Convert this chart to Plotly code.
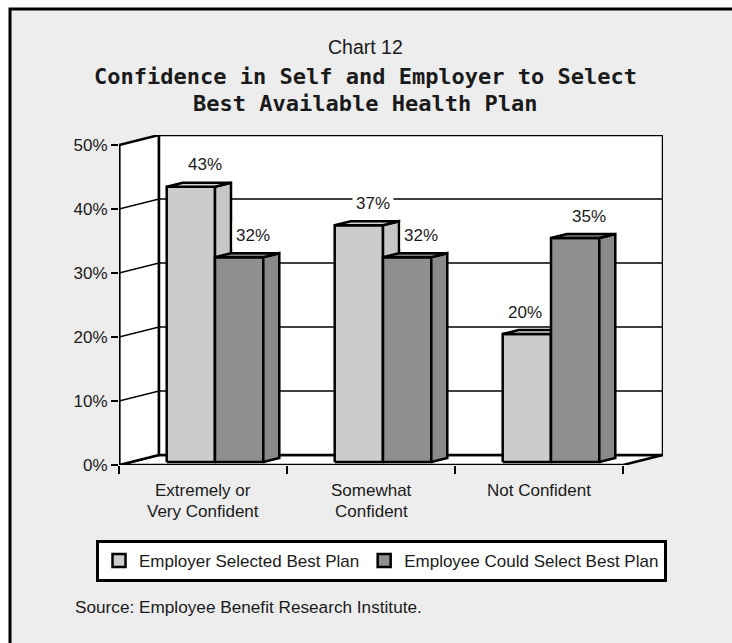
import plotly.graph_objects as go

# ---- data -------------------------------------------------------------
CATEGORIES = ["Extremely or<br>Very Confident", "Somewhat<br>Confident", "Not Confident"]
SERIES_NAMES = ["Employer Selected Best Plan", "Employee Could Select Best Plan"]
EMPLOYER = [43, 37, 20]
EMPLOYEE = [32, 32, 35]
Y_TICKS = [0, 10, 20, 30, 40, 50]

# ---- page geometry (pixels) -------------------------------------------
W, H = 732, 643
PLOT_L, PLOT_R, PLOT_T, PLOT_B = 119, 663, 135, 465
CAT_PX = 168.0          # width of one category on the front plane
PCT_PX = 6.4            # pixels per percentage point
WALL_DEPTH = (40, 10)   # back wall offset (right, up) in px
BAR_FRONT = (12, 3)     # bar front face offset from the front plane, px
BAR_DEPTH = (16, 4)     # depth of each column, px
BAR_W_PX = 48.3

FONT = "Liberation Sans, Arial, sans-serif"
TITLE_FONT = "DejaVu Sans Mono, Liberation Mono, monospace"
INK = "#1a1a1a"
BG = "#EDEDED"
COLORS = {"front": ["#CCCCCC", "#8F8F8F"], "side": ["#C6C6C6", "#8A8A8A"],
          "top": ["#D2D2D2", "#7E7E7E"]}

# depth offsets converted into data units
DX, DY = WALL_DEPTH[0] / CAT_PX, WALL_DEPTH[1] / PCT_PX
FDX, FDY = BAR_FRONT[0] / CAT_PX, BAR_FRONT[1] / PCT_PX
BDX, BDY = BAR_DEPTH[0] / CAT_PX, BAR_DEPTH[1] / PCT_PX
BAR_W = BAR_W_PX / CAT_PX
Y_MAX = Y_TICKS[-1]
N = len(CATEGORIES)
X0, X1 = -0.5, N - 0.5


def px_x(p):
    return (p - PLOT_L) / (PLOT_R - PLOT_L)


def px_y(p):
    return (PLOT_B - p) / (PLOT_B - PLOT_T)


fig = go.Figure()


def poly(xs, ys, fill, lw=2.5):
    fig.add_trace(go.Scatter(x=xs + [xs[0]], y=ys + [ys[0]], mode="lines", fill="toself",
                             fillcolor=fill, line=dict(color="black", width=lw),
                             hoverinfo="skip", showlegend=False, cliponaxis=False))


def seg(xs, ys, lw):
    fig.add_trace(go.Scatter(x=xs, y=ys, mode="lines", line=dict(color="black", width=lw),
                             hoverinfo="skip", showlegend=False, cliponaxis=False))


# floor, side wall and back wall
poly([X0, X1, X1 + DX, X0 + DX], [0, 0, DY, DY], "white")
poly([X0, X0, X0 + DX, X0 + DX], [0, Y_MAX, Y_MAX + DY, DY], "white")
poly([X0 + DX, X1 + DX, X1 + DX, X0 + DX], [DY, DY, Y_MAX + DY, Y_MAX + DY], "white")

# gridlines across side and back wall
for v in Y_TICKS[1:-1]:
    seg([X0, X0 + DX, X1 + DX], [v, v + DY, v + DY], 1.5)

# front vertical axis drawn heavier
seg([X0, X0], [0, Y_MAX], 3)


def column(xa, value, k):
    xb = xa + BAR_W
    b, t = FDY, FDY + value
    poly([xa, xb, xb, xa], [b, b, t, t], COLORS["front"][k])
    poly([xb, xb + BDX, xb + BDX, xb], [b, b + BDY, t + BDY, t], COLORS["side"][k])
    poly([xa, xb, xb + BDX, xa + BDX], [t, t, t + BDY, t + BDY], COLORS["top"][k])


annotations = []
LABEL_NUDGE = {(2, 0): -16}   # keep the short column's label clear of its neighbour

for i in range(N):
    for k, series in enumerate([EMPLOYER, EMPLOYEE]):
        xa = i - BAR_W + FDX + k * BAR_W
        column(xa, series[i], k)
        annotations.append(dict(
            x=xa + BAR_W / 2 + BDX, y=series[i] + FDY, xref="x", yref="y",
            text=f"{series[i]}%", showarrow=False, yanchor="middle", xanchor="center",
            yshift=22, xshift=-2 + LABEL_NUDGE.get((i, k), 0),
            bgcolor="white", borderpad=3, font=dict(family=FONT, size=17, color=INK)))

# legend entries
for k, name in enumerate(SERIES_NAMES):
    fig.add_trace(go.Scatter(x=[None], y=[None], mode="markers", name=name,
                             marker=dict(symbol="square", size=13, color=COLORS["front"][k],
                                         line=dict(color="black", width=2.5))))

# category labels, one annotation per line
for i, cat in enumerate(CATEGORIES):
    for j, line in enumerate(cat.split("<br>")):
        annotations.append(dict(x=i, y=0, xref="x", yref="y", text=line, showarrow=False,
                                xanchor="center", yanchor="middle", yshift=-25 - 21.5 * j,
                                font=dict(family=FONT, size=17, color=INK)))

cx = px_x(365)
annotations += [
    dict(x=cx, y=px_y(46.5), xref="paper", yref="paper", text="Chart 12", showarrow=False,
         xanchor="center", yanchor="middle", font=dict(family=FONT, size=19.5, color=INK)),
    dict(x=cx, y=px_y(76.5), xref="paper", yref="paper",
         text="<b>Confidence in Self and Employer to Select</b>", showarrow=False,
         xanchor="center", yanchor="middle", font=dict(family=TITLE_FONT, size=22, color=INK)),
    dict(x=cx, y=px_y(103.5), xref="paper", yref="paper",
         text="<b>Best Available Health Plan</b>", showarrow=False,
         xanchor="center", yanchor="middle", font=dict(family=TITLE_FONT, size=22, color=INK)),
    dict(x=px_x(73), y=px_y(606.5), xref="paper", yref="paper",
         text="Source: Employee Benefit Research Institute.", showarrow=False,
         xanchor="left", yanchor="middle", font=dict(family=FONT, size=17.2, color=INK)),
]

shapes = [
    dict(type="rect", xref="paper", yref="paper", x0=px_x(10), x1=px_x(760),
         y0=px_y(670), y1=px_y(9), fillcolor=BG, line=dict(width=0), layer="below"),
    dict(type="path", xref="paper", yref="paper",
         path=f"M{px_x(10)},{px_y(670)} L{px_x(10)},{px_y(9)} L{px_x(760)},{px_y(9)}",
         line=dict(color="black", width=3)),
]

fig.update_layout(
    template="none",
    width=W, height=H,
    margin=dict(l=PLOT_L, r=W - PLOT_R, t=PLOT_T, b=H - PLOT_B, pad=0),
    paper_bgcolor="white", plot_bgcolor="rgba(0,0,0,0)",
    xaxis=dict(range=[X0, X1 + DX], tickvals=[i - 0.5 for i in range(N + 1)],
               ticks="outside", ticklen=8, tickwidth=1.5, tickcolor="black",
               showticklabels=False, showgrid=False, zeroline=False, showline=False,
               automargin=False, fixedrange=True),
    yaxis=dict(range=[0, Y_MAX + DY], tickvals=Y_TICKS, ticktext=[f"{v}%" for v in Y_TICKS],
               ticks="outside", ticklen=7, tickwidth=1.5, tickcolor="black",
               tickfont=dict(family=FONT, size=17, color=INK),
               showgrid=False, zeroline=False, showline=False, automargin=False, fixedrange=True),
    showlegend=True,
    legend=dict(orientation="h", x=px_x(96), y=px_y(540), xanchor="left", yanchor="top",
                bgcolor="white", bordercolor="black", borderwidth=3,
                font=dict(family=FONT, size=17, color=INK), itemclick=False,
                itemdoubleclick=False, tracegroupgap=0),
    annotations=annotations,
    shapes=shapes,
)

fig.write_html("out.html")
